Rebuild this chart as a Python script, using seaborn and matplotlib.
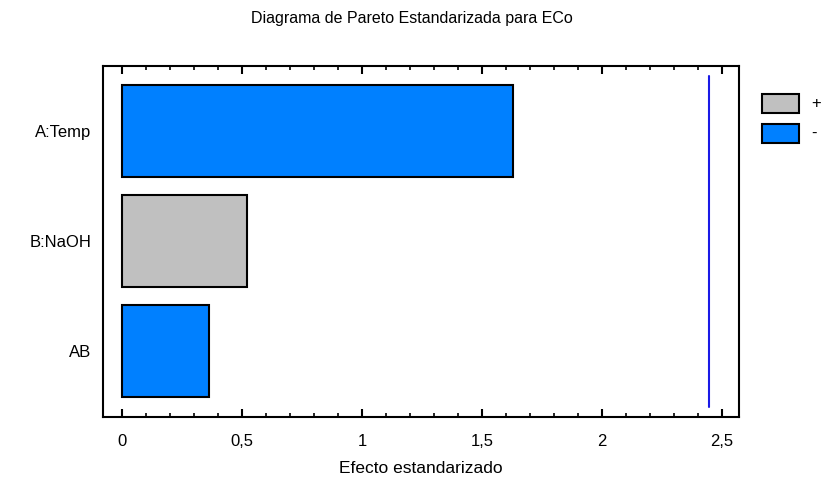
import matplotlib
matplotlib.use("Agg")
import matplotlib.pyplot as plt
import seaborn as sns
import pandas as pd
from matplotlib.patches import Rectangle
from matplotlib.ticker import MultipleLocator, FuncFormatter

factors = ["A:Temp", "B:NaOH", "AB"]
effects = [1.627, 0.521, 0.3625]
signs = ["-", "+", "-"]
critical_value = 2.447
legend_labels = ["+", "-"]
title = "Diagrama de Pareto Estandarizada para ECo"
xlabel = "Efecto estandarizado"

sns.set_theme(style="white")
plt.rcParams['font.family'] = ['Liberation Sans', 'DejaVu Sans']
plt.rcParams.update({"text.color": "black", "axes.labelcolor": "black",
                     "xtick.color": "black", "ytick.color": "black"})

df = pd.DataFrame({"factor": factors, "effect": effects, "sign": signs})
palette = {"+": "#C0C0C0", "-": "#0080FF"}

W, H = 824, 487
fig = plt.figure(figsize=(W/100, H/100), dpi=100)
ax = fig.add_axes([103/W, 1-417/H, (739-103)/W, (417-66)/H])

sns.barplot(data=df, x="effect", y="factor", hue="sign", palette=palette,
            dodge=False, width=0.83, edgecolor="black", linewidth=1.5,
            saturation=1, legend=False, ax=ax, orient="h")

ax.axvline(critical_value, ymin=10/351, ymax=1-10/351, color="#1a1ae6", lw=1.5)

ax.set_xlim(-0.08, 2.5 + 17/240)
ax.set_ylim(2.6, -0.59)
ax.xaxis.set_major_locator(MultipleLocator(0.5))
ax.xaxis.set_minor_locator(MultipleLocator(0.1))
ax.xaxis.set_major_formatter(FuncFormatter(lambda v, p: f"{v:g}".replace(".", ",")))
ax.tick_params(axis="x", which="major", direction="in", length=6, width=1.5,
               top=True, bottom=True, labelsize=12, pad=12, colors="black")
ax.tick_params(axis="x", which="minor", direction="in", length=3, width=1.2,
               top=True, bottom=True, colors="black")
ax.tick_params(axis="y", left=False, length=0, labelsize=12, pad=8.5,
               labelcolor="black")
for s in ax.spines.values():
    s.set_color("black")
    s.set_linewidth(1.5)
ax.set_ylabel("")
ax.set_xlabel(xlabel, fontsize=12.5, labelpad=9, color="black")
fig.text(0.5, 1-18/H, title, ha="center", va="center", fontsize=11.5,
         color="black")

# legend (manual key boxes)
for i, lab in enumerate(legend_labels):
    top = 94 + 30*i
    fig.add_artist(Rectangle((762/W, 1-(top+19)/H), 37/W, 19/H,
                             transform=fig.transFigure, facecolor=palette[lab],
                             edgecolor="black", linewidth=1.5))
    fig.text(811/W, 1-(top+9.5)/H, lab, ha="left", va="center",
             fontsize=12, color="black")

fig.savefig("out.png", dpi=100)
